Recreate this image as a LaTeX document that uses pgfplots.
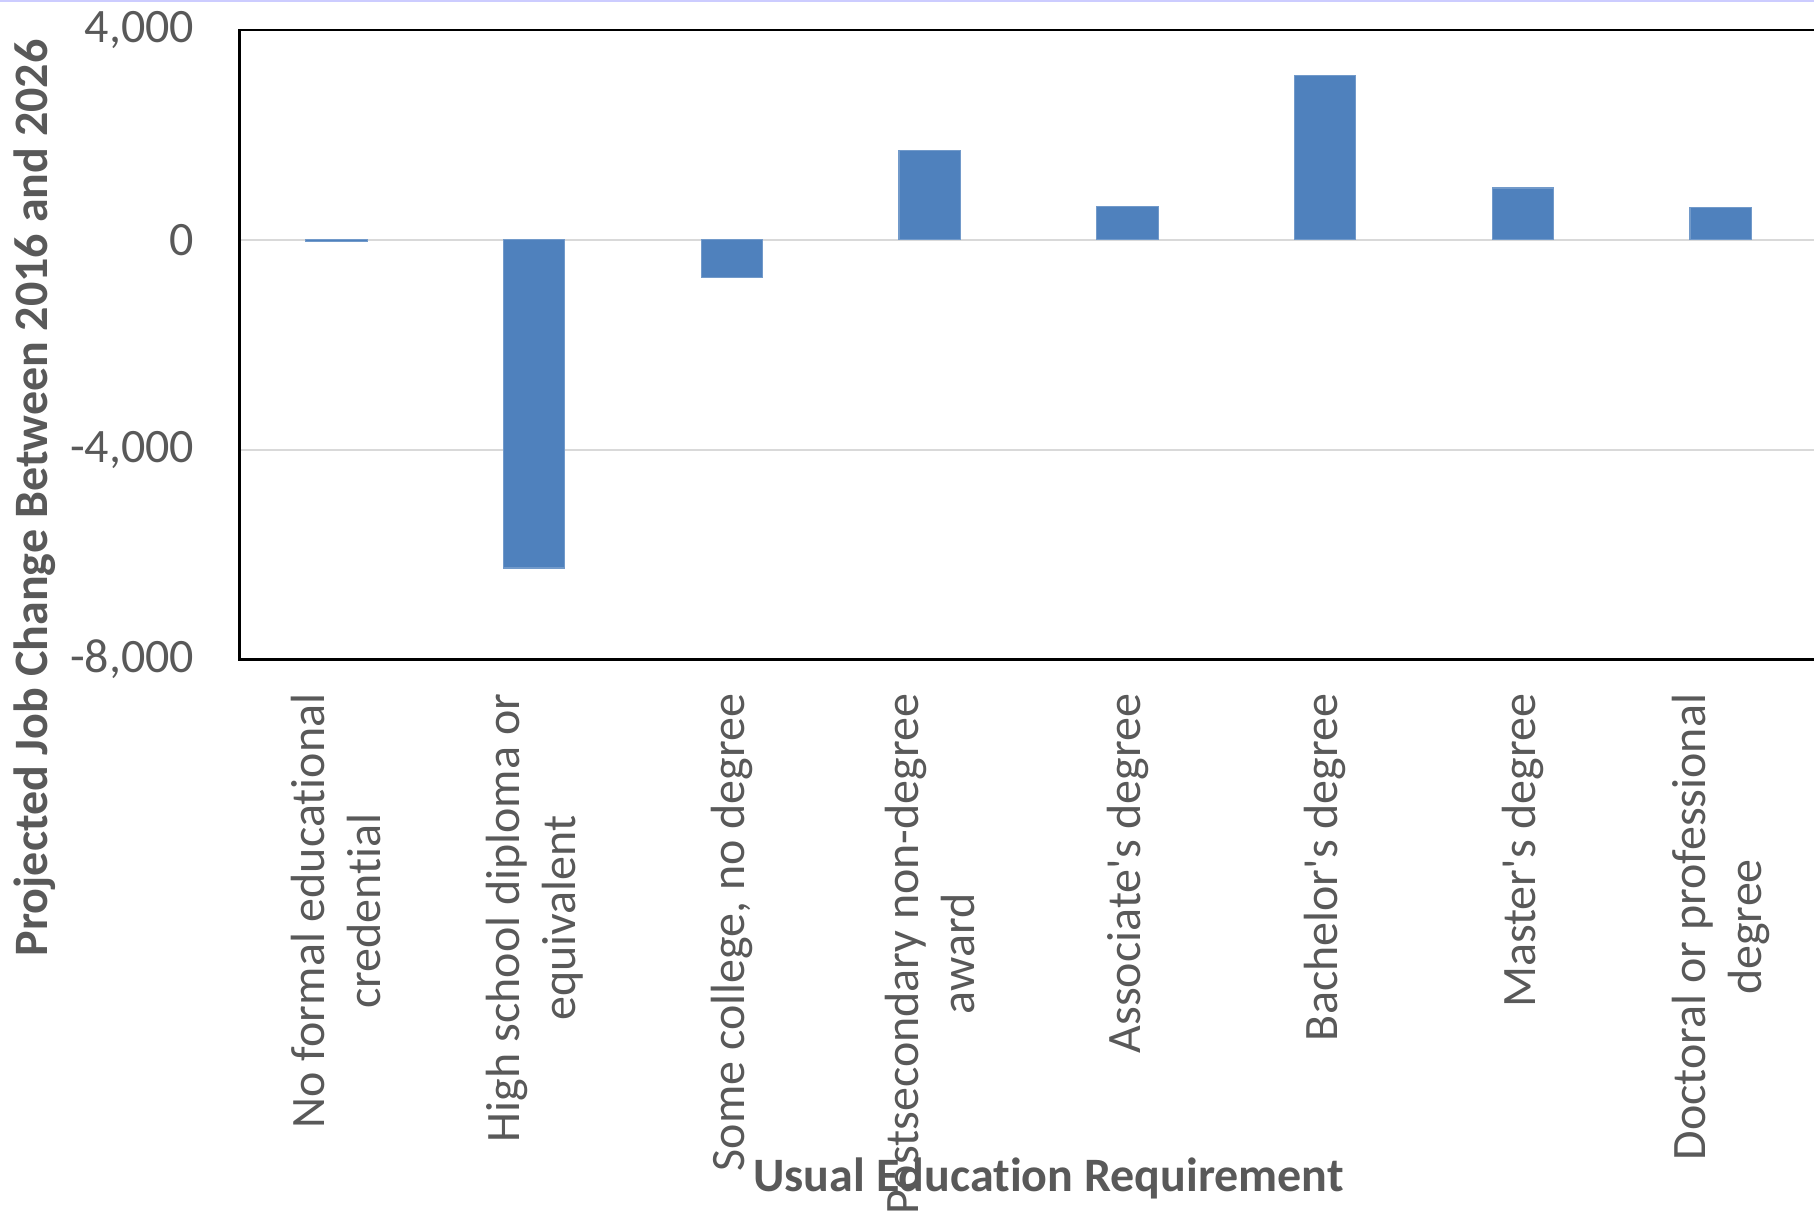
\documentclass[border=0pt]{standalone}
\usepackage{pgfplots}
\pgfplotsset{compat=1.18}
\usepackage{fontspec}
\setmainfont{Carlito}[Ligatures={NoCommon}]

\definecolor{barblue}{HTML}{4F81BD}
\definecolor{txtgray}{HTML}{595959}
\definecolor{gridgray}{HTML}{D9D9D9}

\begin{document}
\begin{tikzpicture}
  \begin{axis}[
    scale only axis,
    width=395pt, height=157.4pt,
    ybar, bar width=0.31,
    xmin=-0.49, xmax=7.5,
    ymin=-8000, ymax=4000,
    xtick={0,1,...,7},
    xticklabels={
      {No formal educational\\credential},
      {High school diploma or\\equivalent},
      {Some college, no degree},
      {Postsecondary non-degree\\award},
      {Associate\textquotesingle s degree},
      {Bachelor\textquotesingle s degree},
      {Master\textquotesingle s degree},
      {Doctoral or professional\\degree}},
    ytick={-8000,-4000,0,4000},
    yticklabels={{-8,000},{-4,000},{0},{4,000}},
    major tick length=0,
    ymajorgrids,
    grid style={gridgray, line width=0.6pt},
    axis line style={black, line width=0.6pt},
    tick label style={font=\fontsize{12}{14}\selectfont, text=txtgray},
    yticklabel style={anchor=east},
    yticklabel shift=7.8pt,
    xticklabel style={rotate=90, anchor=east, align=center},
    xticklabel shift=5pt,
    xlabel={Usual Education Requirement},
    ylabel={Projected Job Change Between 2016 and 2026},
    label style={font=\bfseries\fontsize{12}{15}\selectfont, text=txtgray},
    xlabel style={at={(axis description cs:0.512,-0.824)}, anchor=center},
    ylabel style={at={(axis description cs:-0.1295,0.257)}, anchor=center, rotate=0},
  ]
    \addplot[fill=barblue, draw=barblue!80!white, line width=0.3pt] coordinates {
      (0,-30) (1,-6255) (2,-720) (3,1700) (4,640) (5,3140) (6,990) (7,610)
    };
  \end{axis}
  \draw[color=blue!20, line width=0.5pt] (-59.9pt,164.6pt) -- (393.6pt,164.6pt);
  \pgfresetboundingbox
  \useasboundingbox (-59.9pt,-139.4pt) rectangle (393.6pt,164.9pt);
\end{tikzpicture}
\end{document}
